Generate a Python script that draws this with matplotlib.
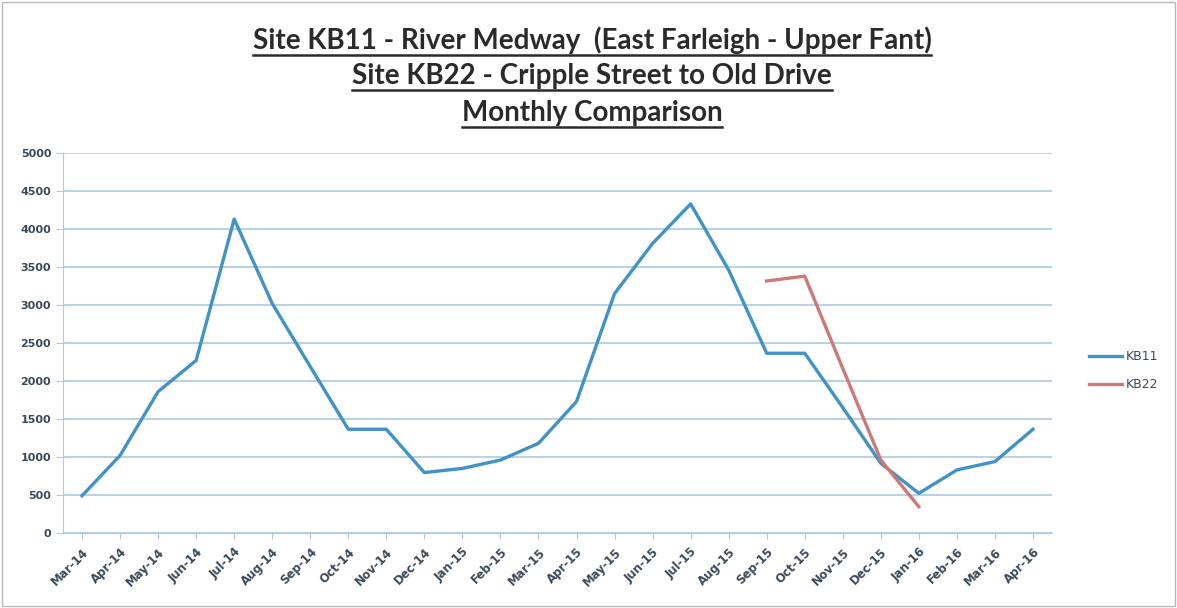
import matplotlib
matplotlib.use("Agg")
from matplotlib import pyplot as plt
from matplotlib.lines import Line2D

months = ['Mar-14', 'Apr-14', 'May-14', 'Jun-14', 'Jul-14', 'Aug-14', 'Sep-14',
          'Oct-14', 'Nov-14', 'Dec-14', 'Jan-15', 'Feb-15', 'Mar-15', 'Apr-15',
          'May-15', 'Jun-15', 'Jul-15', 'Aug-15', 'Sep-15', 'Oct-15', 'Nov-15',
          'Dec-15', 'Jan-16', 'Feb-16', 'Mar-16', 'Apr-16']
kb11 = [490, 1020, 1860, 2270, 4130, 3020, 2190, 1365, 1365, 795, 850, 960,
        1180, 1730, 3150, 3810, 4330, 3460, 2365, 2365, 1650, 917, 522, 830,
        940, 1365]
kb22_months = ['Sep-15', 'Oct-15', 'Nov-15', 'Dec-15', 'Jan-16']
kb22 = [3316, 3380, 2165, 960, 346]

titles = ['Site KB11 - River Medway  (East Farleigh - Upper Fant)',
          'Site KB22 - Cripple Street to Old Drive',
          'Monthly Comparison']

blue = '#4193c6'
red = '#cc7a78'
grid = '#a9cbe0'
txt = '#3a4a5a'

fig = plt.figure(figsize=(11.77, 6.08), dpi=100)
W, H = 1177, 608
ax = fig.add_axes([63 / W, 1 - 533 / H, (1052 - 63) / W, (533 - 153) / H])

x = list(range(len(months)))
x22 = [months.index(m) for m in kb22_months]
l1, = ax.plot(x, kb11, color=blue, lw=2.4, solid_joinstyle='round')
l2, = ax.plot(x22, kb22, color=red, lw=2.4, solid_joinstyle='round')

ax.set_xlim(-0.5, len(months) - 0.5)
ax.set_ylim(0, 5000)
ax.set_yticks(range(0, 5001, 500))
ax.yaxis.grid(True, color=grid, lw=1.2)
ax.set_axisbelow(True)
ax.set_xticks(x)
ax.set_xticklabels(months, rotation=45, ha='right', rotation_mode='anchor',
                   fontsize=8.5, color=txt, fontweight='bold')
ax.tick_params(axis='y', labelsize=8, labelcolor=txt, color=grid, length=5)
ax.tick_params(axis='x', color=grid, length=4, pad=5)
for lb in ax.get_yticklabels():
    lb.set_fontweight('bold')
for s in ['top', 'right']:
    ax.spines[s].set_visible(False)
ax.spines['left'].set_color(grid)
ax.spines['bottom'].set_color(grid)

# legend
leg = fig.legend([l1, l2], ['KB11', 'KB22'], loc='center left',
                 bbox_to_anchor=(1078 / W, 1 - 371 / H), frameon=False,
                 fontsize=9, handlelength=2.6, labelspacing=1.2, handletextpad=0.3)
for t in leg.get_texts():
    t.set_color(txt)

# titles with underline
ys = [40, 76, 113]
tobjs = []
for t, yy in zip(titles, ys):
    tobjs.append(fig.text(0.503, 1 - yy / H, t, ha='center', va='center',
                          fontsize=20, fontweight='bold', color='#2a2a2a',
                          family='Lato'))
fig.canvas.draw()
r = fig.canvas.get_renderer()
for t in tobjs:
    bb = t.get_window_extent(r)
    yline = (bb.y0 - 1) / (H)
    fig.add_artist(Line2D([bb.x0 / W, bb.x1 / W], [yline, yline],
                          transform=fig.transFigure, color='#2a2a2a', lw=1.8))

# outer frame
fig.add_artist(plt.Rectangle((2 / W, 2 / H), 1 - 4 / W, 1 - 4 / H, fill=False,
                             transform=fig.transFigure, ec='#b8b8b8', lw=1))

fig.savefig('out.png', dpi=100)
